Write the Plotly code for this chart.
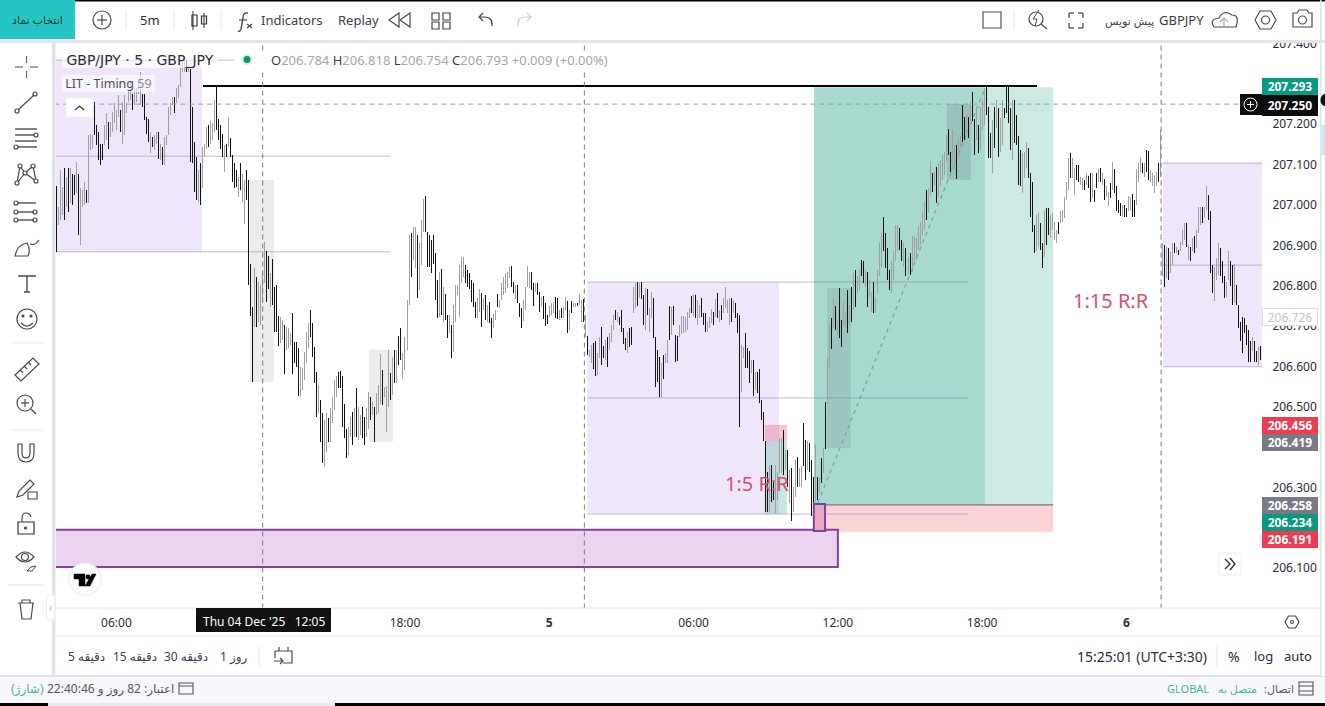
import plotly.graph_objects as go

# GBP/JPY 5m bars, left to right
high_a=[207.047,206.996,207.086,207.045,207.091,207.070,207.091,207.091,207.078,207.074,
207.107,207.078,207.041,207.037,207.057,207.037,207.173,207.177,207.173,207.256,
207.198,207.181,207.152,207.152,207.198,207.227,207.206,207.206,207.231,207.252,
207.235,207.272,207.235,207.256,207.272,207.252,207.285,207.309,207.276,207.289,
207.289,207.309,207.330,207.276,207.276,207.219,207.214,207.181,207.169,207.173,
207.181,207.181,207.152,207.144,207.169,207.173,207.243,207.252,207.268,207.268,
207.289,207.297,207.351,207.355,207.359,207.359,207.347,207.338,207.243,207.157,
207.119,207.086,207.103,207.144,207.152,207.194,207.198,207.210,207.202,207.260,
207.295,207.214,207.198,207.177,207.148,207.152,207.219,207.165,207.124,207.103,
207.086,207.070,207.103,207.078,207.062,207.086]
low_a=[206.884,206.950,206.962,206.975,206.962,206.996,206.983,207.004,207.000,207.024,
207.029,206.925,206.901,206.996,207.000,207.004,207.004,207.136,207.140,207.173,
207.148,207.111,207.099,207.111,207.148,207.161,207.140,207.169,207.181,207.202,
207.186,207.219,207.181,207.152,207.173,207.227,207.256,207.260,207.235,207.247,
207.256,207.276,207.247,207.243,207.210,207.177,207.157,207.128,207.144,207.136,
207.152,207.115,207.111,207.099,207.099,207.148,207.173,207.223,207.247,207.227,
207.252,207.264,207.293,207.330,207.330,207.330,207.330,207.107,207.103,207.033,
207.012,207.008,207.000,207.041,207.119,207.140,207.144,207.152,207.161,207.181,
207.186,207.161,207.140,207.119,207.082,207.119,207.144,207.119,207.057,207.041,
207.045,207.020,207.037,207.008,206.954,207.012]
dir_a="kgggkgkgkk"+"gkgggkgggk"+"kkkkggkggg"+"ggkgggggkg"+"gggkkkkgkg"+"gkgkgggggk"+"gggggkgkkk"+"kgkgggkggg"+"kkkkgkgkkk"+"kgkggk"

high_b=[207.062,206.854,206.748,206.843,206.821,206.810,206.802,206.831,206.909,206.886,
206.874,206.831,206.865,206.798,206.802,206.725,206.723,206.715,206.703,206.698,
206.694,206.682,206.733,206.661,206.661,206.645,206.599,206.595,206.636,206.686,
206.707,206.740,206.707,206.649,206.587,206.554,206.518,206.484,206.467,206.484,
206.473,206.496,206.525,206.566,206.575,206.587,206.589,206.575,206.508,206.446,
206.451,206.475,206.488,206.496,206.546,206.500,206.480,206.500,206.475,206.496,
206.537,206.525,206.513,206.500,206.533,206.554,206.630,206.591,206.550,206.551,
206.641,206.583,206.624,206.641,206.641,206.675,206.694,206.632,206.674,206.765,
206.926,206.930,206.946,206.946,206.926,206.905,206.963,207.016,207.022,206.934,
206.926,206.913,206.926,206.880,206.814,206.835,206.841,206.798,206.779,206.727,
206.727,206.703,206.752,206.802,206.802,206.851,206.870,206.872,206.851,206.839,
206.831,206.814,206.806,206.760,206.769,206.793,206.781,206.769,206.777,206.752,
206.760,206.719,206.731,206.740,206.779,206.765]
low_b=[206.802,206.725,206.562,206.697,206.697,206.711,206.703,206.756,206.806,206.760,
206.793,206.748,206.752,206.686,206.686,206.651,206.657,206.665,206.581,206.641,
206.645,206.653,206.581,206.608,206.599,206.527,206.523,206.542,206.566,206.608,
206.645,206.674,206.624,206.560,206.475,206.484,206.413,206.361,206.350,206.389,
206.413,206.413,206.459,206.492,206.525,206.546,206.546,206.449,206.422,206.372,
206.380,206.426,206.405,206.426,206.426,206.418,206.430,206.422,206.405,206.426,
206.446,206.467,206.480,206.413,206.480,206.484,206.508,206.504,206.525,206.438,
206.500,206.517,206.529,206.558,206.558,206.603,206.616,206.570,206.591,206.641,
206.752,206.822,206.864,206.843,206.769,206.789,206.851,206.934,206.934,206.847,
206.847,206.831,206.855,206.765,206.719,206.723,206.727,206.711,206.715,206.670,
206.682,206.622,206.636,206.711,206.777,206.723,206.806,206.822,206.806,206.798,
206.793,206.760,206.748,206.719,206.719,206.736,206.697,206.740,206.715,206.711,
206.707,206.671,206.694,206.715,206.746,206.744]
dir_b="kkkgkggggk"+"kgkkkkggkg"+"ggkkkkgggg"+"gkkkkgkkgg"+"kggggkkkkk"+"ggkgkggkkg"+"gkgkgggkgg"+"gkgkgkkggg"+"gkggkgggkk"+"kkkkkgkgkk"+"gkggggggkk"+"kkkkggkgkg"+"kkggkg"

high_c=[206.806,206.822,206.831,206.835,206.847,206.849,206.810,206.802,206.802,206.756,
206.744,206.765,206.798,206.849,206.835,206.835,206.806,206.806,206.806,206.785,
206.773,206.775,206.756,206.727,206.750,206.756,206.760,206.773,206.769,206.740,
206.744,206.748,206.773,206.763,206.740,206.763,206.756,206.756,206.758,206.779,
206.765,206.766]
low_c=[206.765,206.777,206.781,206.794,206.818,206.798,206.781,206.766,206.756,206.723,
206.694,206.713,206.741,206.798,206.794,206.789,206.750,206.785,206.777,206.736,
206.748,206.717,206.700,206.705,206.723,206.727,206.732,206.719,206.717,206.715,
206.719,206.719,206.740,206.684,206.690,206.732,206.746,206.748,206.750,206.752,
206.711,206.711]
dir_c="gggggkkgkk"+"kggggkkgkk"+"gkkkgggkkg"+"kggkgkggkg"+"gk"

high_d=[206.727,206.675,206.641,206.653,206.657,206.664,206.632,206.674,206.697,206.651,
206.665,206.674,206.682,206.703,206.727,206.740,206.736,206.723,206.740,206.694,
206.670,206.686,206.694,206.698,206.798,206.806,206.810,206.806,206.808,206.777,
206.794,206.791,206.744,206.785,206.769,206.672,206.641,206.624,206.608,206.628,
206.632,206.665,206.750,206.748,206.750,206.678,206.675,206.703,206.725,206.725,
206.723,206.736,206.744,206.775,206.777,206.777,206.765,206.752]
low_d=[206.674,206.628,206.624,206.608,206.593,206.575,206.579,206.620,206.604,206.620,
206.616,206.599,206.641,206.661,206.690,206.715,206.711,206.703,206.686,206.656,
206.641,206.632,206.649,206.653,206.732,206.744,206.750,206.769,206.766,206.703,
206.690,206.727,206.686,206.719,206.670,206.550,206.562,206.525,206.525,206.570,
206.608,206.608,206.665,206.678,206.703,206.612,206.614,206.674,206.680,206.682,
206.686,206.690,206.719,206.732,206.725,206.719,206.703,206.719]
dir_d="gkggkkggkk"+"gkgggkgkkk"+"kgkkggkgkk"+"gkggkkkkgk"+"ggkgkkkggg"+"gggkgkgg"

high_e=[206.769,206.732,206.732,206.711,206.723,206.742,206.736,206.766,206.781,206.740,
206.752,206.769,206.796,206.765,206.769,206.769,206.765,206.756,206.732,206.727,
206.653,206.649,206.682,206.645,206.639,206.616,206.616,206.587,206.585,206.593,
206.517,206.488,206.416,206.339,206.356,206.356,206.319,206.356,206.339,206.422,
206.422,206.443,206.393,206.393,206.343,206.348,206.302,206.368,206.375,206.348,
206.352,206.459,206.418,206.414,206.409,206.368,206.327,206.408,206.327,206.327,
206.372,206.397,206.513,206.620,206.703,206.719,206.769,206.750,206.715,206.794,
206.715,206.761,206.732,206.789,206.752,206.798,206.831,206.839]
low_e=[206.723,206.703,206.686,206.686,206.694,206.707,206.703,206.723,206.719,206.711,
206.715,206.732,206.744,206.732,206.703,206.711,206.732,206.719,206.682,206.449,
206.537,206.620,206.595,206.595,206.558,206.583,206.527,206.542,206.533,206.510,
206.467,206.414,206.240,206.238,206.240,206.265,206.269,206.236,206.269,206.335,
206.335,206.331,206.343,206.302,206.261,206.218,206.240,206.277,206.302,206.302,
206.302,206.352,206.319,206.343,206.339,206.229,206.261,206.265,206.269,206.286,
206.310,206.335,206.395,206.504,206.599,206.642,206.694,206.689,206.678,206.670,
206.649,206.699,206.694,206.682,206.703,206.711,206.740,206.748]
dir_e="kkkgggkgkg"+"kggggkgkkk"+"ggkkkgkgkk"+"kkkkgkkggg"+"gkgkgkggkg"+"gkkgkkkgkg"+"kgkggkgkgk"+"kggkgkgk"

high_f=[206.823,206.839,206.864,206.860,206.839,206.835,206.814,206.785,206.810,206.773,
206.839,206.909,206.930,206.971,206.930,206.893,206.839,206.860,206.885,206.951,
206.951,206.942,206.914,206.905,206.893,206.872,206.880,206.922,206.922,206.918,
206.947,206.959,206.984,207.009,207.037,207.042,207.108,207.079,207.083,207.094,
207.104,207.112,207.124,207.132,207.174,207.188,207.132,207.186,207.149,207.149,
207.161,207.170,207.248,207.219,207.223,207.219,207.256,207.279,207.213,207.240,
207.198,207.244,207.260,207.289,207.293,207.244,207.178,207.211,207.244,207.260,
207.240,207.215,207.260,207.240,207.293,207.298,207.240,207.260,207.260,207.223,
207.170,207.137,207.128,207.132,207.157,207.141,207.079,207.058,206.951,206.975,
206.980,206.955,206.905,206.988,206.992,206.992,206.975,206.980,206.959,206.938,
206.959]
low_f=[206.781,206.790,206.823,206.806,206.798,206.748,206.773,206.736,206.732,206.732,
206.781,206.823,206.847,206.885,206.843,206.814,206.790,206.781,206.814,206.860,
206.885,206.889,206.860,206.847,206.824,206.827,206.827,206.835,206.860,206.864,
206.889,206.901,206.922,206.938,206.963,206.980,207.025,207.033,207.050,207.006,
207.021,207.046,207.062,207.075,207.108,207.124,207.083,207.099,207.095,207.064,
207.120,207.141,207.157,207.161,207.174,207.165,207.211,207.207,207.124,207.161,
207.130,207.137,207.186,207.198,207.223,207.116,207.116,207.079,207.141,207.190,
207.120,207.132,207.149,207.215,207.227,207.203,207.137,207.112,207.153,207.149,
207.050,207.046,207.029,207.066,207.091,207.066,206.971,206.934,206.880,206.885,
206.897,206.889,206.845,206.872,206.901,206.926,206.918,206.938,206.914,206.905,
206.928]
dir_f="ggkkgkggkg"+"gggkkkkggg"+"gkkgkgkggg"+"ggggkggkgk"+"gggggkkggk"+"ggkkgkgkkg"+"kgggkkkgkg"+"kggkkkkgkk"+"kkgggkkkkg"+"gkkgkkgggg"+"k"

high_g=[206.984,206.988,207.021,207.058,207.116,207.130,207.116,207.091,207.099,207.099,
207.070,207.066,207.062,207.079,207.072,207.079,207.079,207.037,207.079,207.089,
207.091,207.079,207.064,207.047,207.033,207.054,207.106,207.089,207.046,207.013,
207.004,207.000,207.000,206.992,207.022,207.021,207.027,207.013,207.089,207.103,
207.120,207.105,207.103,207.136,207.135,207.087,207.079,207.074,207.083,207.103,
207.186]
low_g=[206.955,206.959,206.967,207.013,207.037,207.066,207.066,207.025,207.062,207.058,
207.050,207.037,207.037,207.050,207.041,207.008,207.017,207.008,207.041,207.058,
207.058,207.050,207.013,207.021,206.998,207.017,207.037,207.029,206.984,206.979,
206.973,206.971,206.970,206.970,206.984,206.988,206.970,206.970,207.000,207.058,
207.083,207.079,207.070,207.083,207.062,207.058,207.046,207.029,207.046,207.058,
207.070]
dir_g="gggggkggkk"+"ggkgkkgkkg"+"kgkggkgkkk"+"kgkkggkkgg"+"gkgkkggggk"+"g"

high_h=[206.905,206.901,206.897,206.893,206.884,206.905,206.905,206.897,206.889,206.909,
206.938,206.955,206.956,206.901,206.897,206.918,206.922,206.938,206.996,206.994,
206.994,206.996,207.047,207.025,206.985,206.851,206.847,206.868,206.905,206.893,
206.860,206.823,206.810,206.885,206.860,206.851,206.854,206.802,206.752,206.711,
206.723,206.719,206.703,206.690,206.664,206.674,206.664,206.637,206.649,206.651]
low_h=[206.823,206.798,206.818,206.814,206.831,206.851,206.880,206.880,206.876,206.885,
206.901,206.913,206.897,206.864,206.862,206.885,206.880,206.893,206.930,206.951,
206.955,206.967,206.988,206.963,206.832,206.783,206.761,206.814,206.827,206.823,
206.806,206.769,206.773,206.814,206.799,206.752,206.756,206.752,206.695,206.664,
206.633,206.682,206.653,206.612,206.612,206.637,206.612,206.612,206.600,206.616]
dir_h="gkgkggkgkg"+"ggkgkgkggg"+"kggkkkgggk"+"kkggkkgkkk"+"kkkkkgkkgk"

bar_high=high_a+high_b+high_c+high_d+high_e+high_f+high_g+high_h
bar_low=low_a+low_b+low_c+low_d+low_e+low_f+low_g+low_h
bar_dir=dir_a+dir_b+dir_c+dir_d+dir_e+dir_f+dir_g+dir_h

time_ticks=[30,174,246,318,390,462,534]
time_labels=["06:00","18:00","<b>5</b>","06:00","12:00","18:00","<b>6</b>"]
price_ticks=[206.1,206.3,206.4,206.5,206.6,206.7,206.8,206.9,207.0,207.1,207.2,207.4]
price_labels=["206.100","206.300","206.400","206.500","206.600","206.700","206.800","206.900","207.000","207.100","207.200","207.400"]

# zones: first bar, last bar, top, bottom
zone_start=[-1,265,552.3]
zone_end=[72.7,360.6,601.7]
zone_top=[207.359,206.809,207.104]
zone_mid=[207.121,206.522,206.851]
zone_bottom=[206.884,206.234,206.599]
zone_line_end=[167,455,601.7]

W,H=1325,706
FONT="Noto Sans, DejaVu Sans, sans-serif"
WIDE="DejaVu Sans, sans-serif"
shapes=[]
notes=[]

def chart_rect(x0,x1,y0,y1,fill,line=None,lw=0,layer="below"):
    shapes.append(dict(type="rect",xref="x",yref="y",x0=x0,x1=x1,y0=y0,y1=y1,fillcolor=fill,layer=layer,
                       line=dict(color=line or fill,width=lw)))

def chart_line(x0,x1,y0,y1,color,lw=1,dash="solid",layer="below"):
    shapes.append(dict(type="line",xref="x",yref="y",x0=x0,x1=x1,y0=y0,y1=y1,layer=layer,
                       line=dict(color=color,width=lw,dash=dash)))

# screen furniture is drawn in window pixels on x2/y2
def rect(x0,y0,x1,y1,fill="rgba(0,0,0,0)",line=None,lw=0):
    shapes.append(dict(type="rect",xref="x2",yref="y2",x0=x0,x1=x1,y0=y0,y1=y1,fillcolor=fill,layer="above",
                       line=dict(color=line or "rgba(0,0,0,0)",width=lw)))

def seg(x0,y0,x1,y1,color="#4a4a4a",lw=1.2,dash="solid"):
    shapes.append(dict(type="line",xref="x2",yref="y2",x0=x0,x1=x1,y0=y0,y1=y1,layer="above",
                       line=dict(color=color,width=lw,dash=dash)))

def circle(cx,cy,r,line="#4a4a4a",fill="rgba(0,0,0,0)",lw=1.2):
    shapes.append(dict(type="circle",xref="x2",yref="y2",x0=cx-r,x1=cx+r,y0=cy-r,y1=cy+r,fillcolor=fill,layer="above",
                       line=dict(color=line,width=lw)))

def path(d,line="#4a4a4a",fill="rgba(0,0,0,0)",lw=1.2):
    shapes.append(dict(type="path",xref="x2",yref="y2",path=d,fillcolor=fill,layer="above",
                       line=dict(color=line,width=lw)))

def txt(x,y,text,size=12,color="#2a2e39",anchor="center",bg=None,w=None,h=None,yref="y2",border=None,family=FONT):
    notes.append(dict(xref="x2",yref=yref,x=x,y=y,text=text,showarrow=False,xanchor=anchor,yanchor="middle",
                      font=dict(family=family,size=size,color=color),bgcolor=bg,width=w,height=h,borderpad=0,
                      bordercolor=border,borderwidth=1 if border else 0))

# zones
for s,e,t,m,b,l in zip(zone_start,zone_end,zone_top,zone_mid,zone_bottom,zone_line_end):
    chart_rect(s,e,b,t,"#f0e6fb")
chart_rect(378.1,463.4,206.257,207.292,"#a8d9ce")
chart_rect(463.4,497.4,206.257,207.292,"#cde9e4")
chart_rect(378.1,497.4,206.190,206.257,"#fbd3d6")
chart_rect(96.6,108.6,206.561,207.062,"#ececec")
chart_rect(156,168,206.413,206.641,"#ececec")
chart_rect(444.4,456.4,207.062,207.25,"rgba(110,150,150,0.3)")
chart_rect(384.6,396.5,206.398,206.794,"rgba(110,150,150,0.25)")
chart_rect(353.6,364.6,206.415,206.455,"rgba(235,90,125,0.35)")
chart_rect(353.6,364.6,206.234,206.415,"rgba(110,190,180,0.38)")
chart_rect(-1,390,206.103,206.195,"#ebd4f0","#86409c",2)
for s,e,t,m,b,l in zip(zone_start,zone_end,zone_top,zone_mid,zone_bottom,zone_line_end):
    for p in (t,m,b):
        chart_line(s,l,p,p,"rgba(125,105,165,0.45)",1)
chart_line(378.1,497.4,206.257,206.257,"#6f7a85",1.2)
chart_line(380,463.5,206.262,207.29,"#7f9f98",1.2,"4px,4px")
chart_line(73.2,489.4,207.295,207.295,"#000000",2,layer="above")
chart_rect(378,383.6,206.192,206.259,"#e8a8c0","#8040a0",2,layer="above")
chart_line(378,383.6,206.259,206.259,"#3f5aa0",1.5,layer="above")
for bar in (103,263.5,551.3):
    chart_line(bar,bar,206.0,207.41,"#777a85",1,"5px,4px",layer="above")
chart_line(-1,591,207.25,207.25,"#9a9da5",1,"5px,4px",layer="above")

# chrome panels
rect(0,0,1325,40,"#ffffff")
rect(0,40,1325,43,"#e6e6ea")
rect(58,0,1325,1.5,"#000000")
rect(0,0,75,39,"#26c4c4")
rect(0,43,52,676,"#ffffff")
rect(52,43,55.5,676,"#e2e2ec")
rect(55.5,636,1320,676,"#ffffff")
seg(56,608,1320,608,"#e4e4e8",1)
seg(56,636,1320,636,"#e4e4e8",1)
rect(0,675,1325,703,"#f8f8fc")
seg(0,676,1325,676,"#d8d8e6",1.5)
rect(1320,0,1321.5,676,"#e0e0ec")
rect(1321.5,43,1325,676,"#ffffff")
rect(1321.5,125,1325,155,"#cfe6f2")
circle(1327,100,6,line="#111111",fill="#111111")
rect(0,703,48,706,"#000000")
rect(48,703,335,706,"#e8e8ee")
rect(335,703,1325,706,"#000000")

# top bar
txt(37,19,"انتخاب نماد",11,"#123c3c")
for x in (79,126,174,221,1014):
    seg(x,10,x,30,"#ececec",1)
circle(102,20,9)
seg(97,20,107,20)
seg(102,15,102,25)
txt(150,20,"5m",13)
seg(193,11,193,30)
rect(192,15,197,26,line="#333333",lw=1.2)
seg(204,13,204,28)
rect(201.5,16,206.5,24,line="#333333",lw=1.2)
path("M 248 13 Q 243 12 243 18 L 241 29 Q 240 32 238 31",lw=1.4)
seg(239,20,247,20)
seg(247,24,252,28)
seg(252,24,247,28)
txt(291,20,"Indicators",13,"#3a3e49")
txt(358,20,"Replay",13,"#3a3e49")
path("M 399 13 L 389 20 L 399 27 Z")
path("M 410 13 L 400 20 L 410 27 Z")
for x,y in ((432,13),(443,13),(432,22),(443,22)):
    rect(x,y,x+7,y+7,line="#444444",lw=1.2)
path("M 492 26 Q 493 17 484 17 L 479 17 M 483 13 L 479 17 L 483 21")
path("M 518 26 Q 517 17 526 17 L 531 17 M 527 13 L 531 17 L 527 21",line="#cfcfcf")
rect(983,12,1001,28,line="#555555",lw=1.2)
circle(1036,19,7)
seg(1041,24,1047,29)
path("M 1039 10 L 1033 19 L 1037 19 L 1035 26",lw=1)
for sx,sy,cx,cy in ((1,1,1069,13),(-1,1,1083,13),(1,-1,1069,28),(-1,-1,1083,28)):
    seg(cx,cy,cx+5*sx,cy,"#444444")
    seg(cx,cy,cx,cy+5*sy,"#444444")
txt(1181,20,"GBPJPY",13,"#3a3e49")
txt(1154,20,"پیش نویس",11,"#3a3e49","right")
path("M 1214 27 Q 1209 19 1219 18 Q 1224 9 1232 15 Q 1240 15 1236 27 Z")
seg(1224,27,1224,18,"#aaaaaa")
path("M 1220 22 L 1224 18 L 1228 22",line="#aaaaaa")
path("M 1255 20 L 1260 11 L 1271 11 L 1276 20 L 1271 29 L 1260 29 Z")
circle(1265.5,20,4)
path("M 1293 13 L 1297 13 L 1299 10 L 1307 10 L 1309 13 L 1312 13 L 1312 27 L 1293 27 Z")
circle(1302.5,20,4)

# left toolbar
for a,b,c,d in ((15,67,23,67),(30,67,38,67),(26.5,56,26.5,63),(26.5,71,26.5,78)):
    seg(a,b,c,d,"#666666")
seg(18,110,34,95)
circle(17,111,2)
circle(35,94,2)
for y in (129,135,141,147):
    seg(15,y,37,y,"#333333")
circle(36,135,2,fill="#ffffff")
circle(16,147,2,fill="#ffffff")
path("M 20 166 L 25 173 L 33 166 L 36 181 L 25 173 L 17 183 Z")
for cx,cy in ((20,166),(33,166),(17,183),(25,173),(36,181)):
    circle(cx,cy,2,fill="#ffffff")
for y in (203,212,220):
    seg(15,y,36,y,"#333333")
for cx,cy in ((16,203),(16,212),(35,212),(16,220),(35,220)):
    circle(cx,cy,2,fill="#ffffff")
path("M 15 256 Q 17 245 27 243 Q 31 250 28 256 Z M 30 244 Q 35 246 39 240")
path("M 19 277 L 19 276 L 35 276 L 35 277 M 27 276 L 27 292 M 24 292 L 30 292",lw=1.4)
circle(27,319,10)
circle(23,316,1,fill="#444444")
circle(31,316,1,fill="#444444")
path("M 21 323 Q 27 329 33 323")
seg(10,343,44,343,"#ececec",1)
path("M 15 375 L 33 358 L 39 364 L 21 381 Z")
for a,b,c,d in ((20,370,23,373),(24,366,27,369),(28,362,31,365)):
    seg(a,b,c,d)
circle(25,403,8)
seg(31,409,36,414)
seg(21,403,29,403)
seg(25,399,25,407)
seg(10,430,44,430,"#ececec",1)
path("M 18 444 L 18 453 Q 18 462 26 462 Q 34 462 34 453 L 34 444 L 30 444 L 30 453 Q 30 458 26 458 Q 22 458 22 453 L 22 444 Z")
path("M 17 497 L 19 491 L 30 480 L 34 484 L 23 495 Z")
rect(28,492,37,499,line="#444444",lw=1.1)
rect(18,522,34,534,line="#333333",lw=1.2)
path("M 22 522 L 22 518 Q 22 513 26 513 Q 30 513 31 517")
circle(25.5,528,1,fill="#333333")
path("M 16 557 Q 25 547 34 557 Q 25 567 16 557 Z")
circle(25,557,3.5)
path("M 27 571 L 31 567 L 36 566 L 32 571 Z",lw=1)
seg(8,585,44,585,"#e4e4e8",1)
path("M 18 603 L 34 603 M 22 603 L 22 600 L 30 600 L 30 603 M 20 603 L 22 619 L 31 619 L 33 603")
rect(46.5,595,54.5,620,"#ffffff","#eeeeee",1)
txt(50,607,"‹",10,"#aaaaaa")

# legend
txt(62,60,"&nbsp;GBP/JPY · 5 · GBP_JPY&nbsp;",14,"#2a2e39","left",bg="rgba(255,255,255,0.62)",family=WIDE)
txt(62,83,"&nbsp;LIT - Timing <span style='color:#8a8d95'>59</span>&nbsp;",12.5,"#4a4e59","left",bg="rgba(255,255,255,0.6)")
rect(234,51,270,69,"#ffffff")
circle(247,59.5,5.5,line="rgba(0,0,0,0)",fill="#d4eee8")
circle(247,59.5,3.5,line="rgba(0,0,0,0)",fill="#13936f")
ohlc="".join("<span style='color:#3a3e49'>%s</span>%s " % (a,b) for a,b in (("O","206.784"),("H","206.818"),("L","206.754"),("C","206.793")))
txt(271,60,ohlc+"+0.009 (+0.00%)",13,"#a3a6af","left",bg="#ffffff")
rect(66,98,93,117,"#ffffff","#eeeeee",1)
path("M 75 110 L 79.5 106 L 84 110",line="#333333")

# tv logo, >> button, gear
circle(85,579,16,line="#ececec",fill="#ffffff")
path("M 74 574 L 85 574 L 85 586 L 79 586 L 79 579 L 74 579 Z",line="#000000",fill="#000000",lw=0.5)
circle(88,577,1.8,line="#000000",fill="#000000")
path("M 92 574 L 96 574 L 90 586 L 85 586 Z",line="#000000",fill="#000000",lw=0.5)
rect(1219,553,1241,575,"#ffffff","#eeeeee",1)
path("M 1225 559 L 1230 564 L 1225 569 M 1230 558 L 1235 564 L 1230 570",line="#333333",lw=1.4)
path("M 1285 622 L 1288.5 616 L 1295.5 616 L 1299 622 L 1295.5 628 L 1288.5 628 Z")
circle(1292,622,1.5)

# time axis crosshair label
rect(196,608,331,632,"#111111")
txt(263.5,621,"Thu 04 Dec '25&nbsp;&nbsp;&nbsp;12:05",12,"#ffffff")

# bottom row
for x,t in ((86,"5 دقیقه"),(135,"15 دقیقه"),(186,"30 دقیقه"),(234,"1 روز")):
    txt(x,656,t,12,"#3a3e49")
seg(259,646,259,667,"#e4e4e8",1)
path("M 275 651 L 292 651 L 292 663 L 283 663 M 275 651 L 275 658 M 279 647 L 279 651 M 288 647 L 288 651 M 274 661 L 283 661 M 280 658 L 283 661 L 280 664")
txt(1141.5,656,"15:25:01 (UTC+3:30)",14,"#2a2e39")
seg(1217,646,1217,667,"#e4e4e8",1)
txt(1234,656,"%",14,"#2a2e39")
txt(1263,656,"log",13,"#2a2e39")
txt(1298,656,"auto",13,"#2a2e39")

# status bar
txt(44,688,"(شارژ)",12,"#3fb7a5","right")
txt(174,688,"\u200fاعتبار: 82 روز و 22:40:46",12,"#55585f","right")
rect(179,683,193,694,line="#555555",lw=1.1)
seg(179,686,193,686,"#555555",1)
txt(1209,688,"GLOBAL",11,"#3fb7a5","right")
txt(1257,688,"متصل به",11,"#3fb7a5","right")
txt(1294,688,"اتصال:\u200f",11,"#55585f","right")
rect(1299,682,1313,695,line="#555555",lw=1.1)
seg(1299,686,1313,686,"#555555",1)
seg(1299,691,1313,691,"#555555",1)

# price badges
badge_text=["207.293","207.250","206.456","206.419","206.258","206.234","206.191"]
badge_y=[86.5,105,425.5,442.5,505.5,522.5,539.5]
badge_bg=["#089981","#0c0c0c","#ee3d50","#787b86","#787b86","#089981","#ee3d50"]
rect(1240,94,1262,115,"#0c0c0c")
circle(1250.5,104.5,6.5,line="#ffffff",lw=1)
seg(1247,104.5,1254,104.5,"#ffffff",1)
seg(1250.5,101,1250.5,108,"#ffffff",1)
for t,y,c in zip(badge_text,badge_y,badge_bg):
    txt(1290,y,"<b>%s</b>" % t,12,"#ffffff",bg=c,w=56,h=17 if t!="207.250" else 21)
txt(1290,316.5,"206.726",12,"#c4c6cc",bg="#ffffff",w=54,h=16,border="#dddddd")

txt(757,483,"1:5 R:R",20,"#d9506a")
txt(1111,300,"1:15 R:R",20,"#d9506a")

up_x,up_y,down_x,down_y=[],[],[],[]
for i,(hi,lo,d) in enumerate(zip(bar_high,bar_low,bar_dir)):
    if d=="g":
        up_x+=[i,i,None]
        up_y+=[lo,hi,None]
    else:
        down_x+=[i,i,None]
        down_y+=[lo,hi,None]

fig=go.Figure()
fig.add_trace(go.Scatter(x=up_x,y=up_y,mode="lines",line=dict(color="#a0a0a0",width=1),hoverinfo="skip",showlegend=False))
fig.add_trace(go.Scatter(x=down_x,y=down_y,mode="lines",line=dict(color="#111111",width=1),hoverinfo="skip",showlegend=False))
fig.add_trace(go.Scatter(x=[0],y=[0],xaxis="x2",yaxis="y2",mode="none",hoverinfo="skip",showlegend=False))

fig.update_layout(
    width=W,height=H,margin=dict(l=0,r=0,t=0,b=0,autoexpand=False),
    paper_bgcolor="#ffffff",plot_bgcolor="rgba(0,0,0,0)",
    font=dict(family=FONT,color="#2a2e39",size=12),
    shapes=shapes,annotations=notes,
    xaxis=dict(domain=[56/W,1262/W],range=[-0.15,601.65],tickvals=time_ticks,ticktext=time_labels,
               showgrid=False,zeroline=False,showline=False,ticks="outside",ticklen=4,tickcolor="rgba(0,0,0,0)",
               tickfont=dict(size=12,color="#2a2e39"),anchor="y"),
    yaxis=dict(domain=[(H-608)/H,(H-41)/H],range=[206.0013,207.4064],side="right",tickvals=price_ticks,ticktext=price_labels,
               showgrid=False,zeroline=False,showline=False,ticks="outside",ticklen=7,tickcolor="rgba(0,0,0,0)",
               tickfont=dict(size=12,color="#2a2e39"),anchor="x"),
    xaxis2=dict(domain=[0,1],range=[0,W],visible=False,anchor="y2",fixedrange=True),
    yaxis2=dict(domain=[0,1],range=[H,0],visible=False,anchor="x2",fixedrange=True),
)

crisp="document.querySelectorAll('.scatterlayer path').forEach(function(p){p.style.shapeRendering='crispEdges';});"
fig.write_html("out.html",config=dict(displayModeBar=False),post_script="document.body.style.margin='0';document.body.style.overflow='hidden';"+crisp)
